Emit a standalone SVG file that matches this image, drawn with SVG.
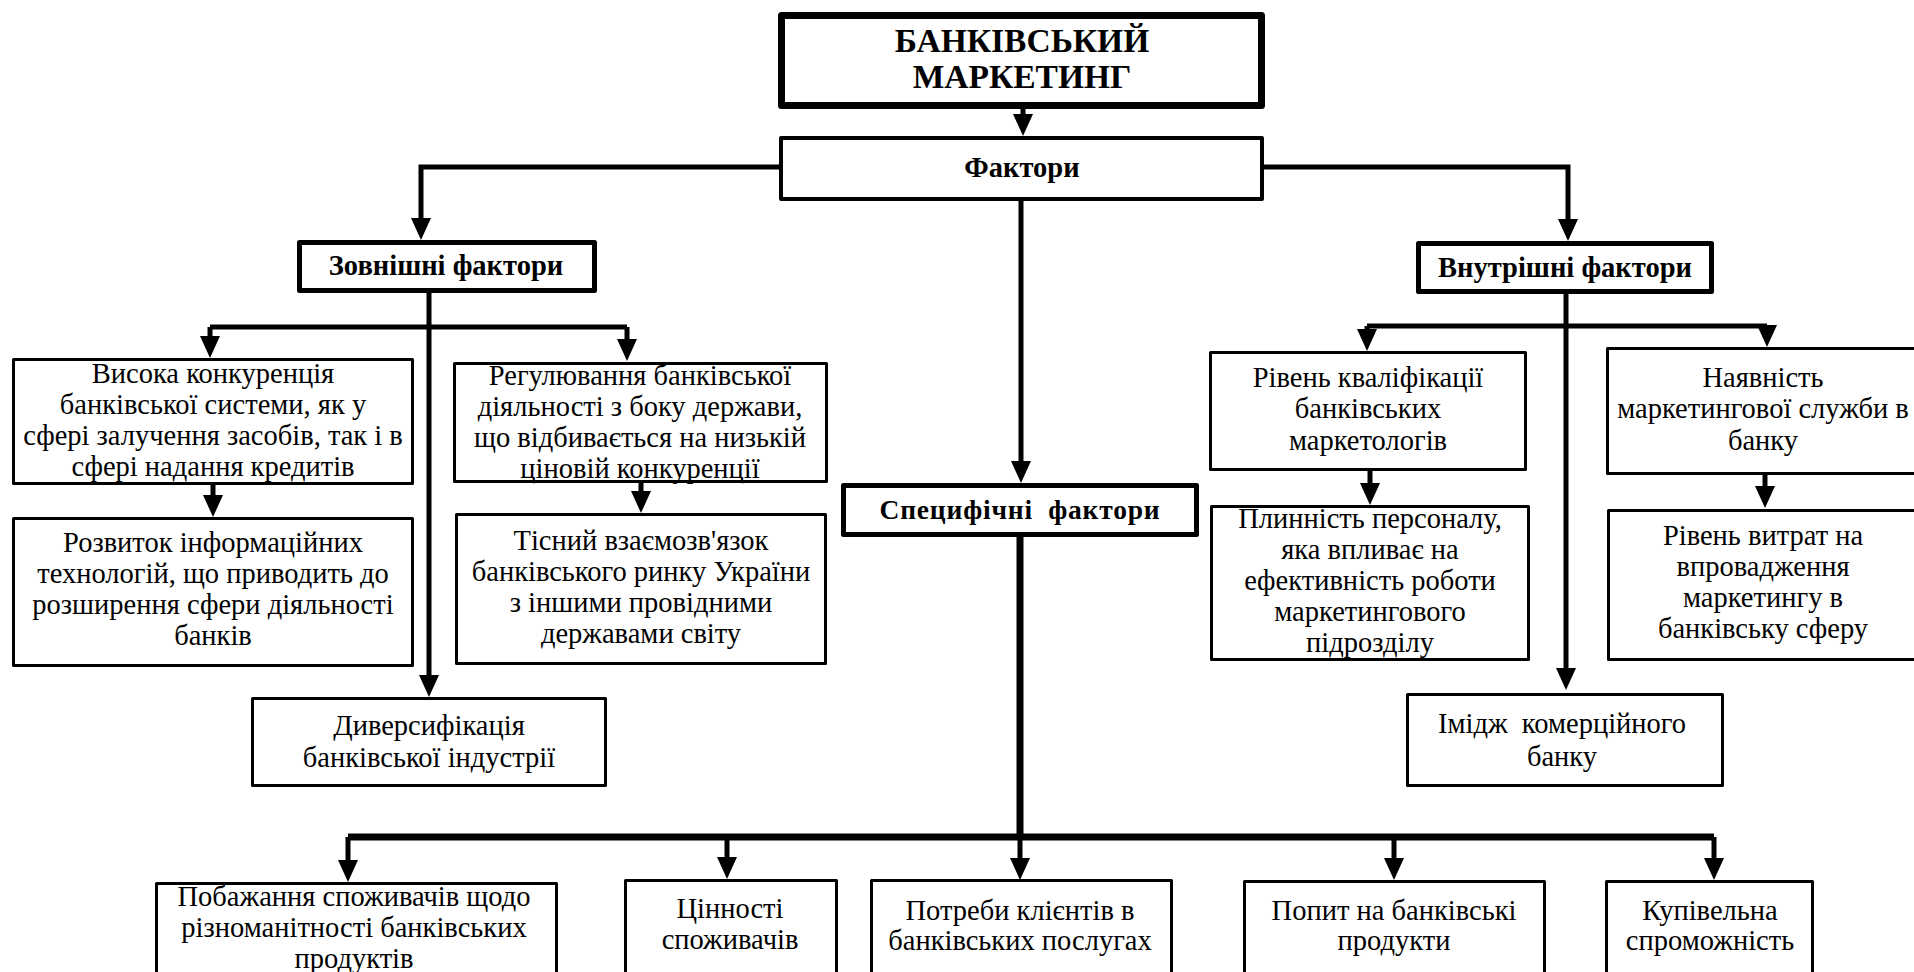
<svg xmlns="http://www.w3.org/2000/svg" width="1914" height="972" viewBox="0 0 1914 972">
<style>
  .box{fill:#fff;stroke:#000;stroke-width:3;stroke-linejoin:round}
  .b5{stroke-width:5}
  .b4{stroke-width:4}
  .b7{stroke-width:7}
  text{font-family:"Liberation Serif","Times New Roman",serif;fill:#000;text-anchor:middle}
  .t{font-size:28.5px}
  .h{font-size:28.5px;font-weight:bold}
  .title{font-size:33.5px;font-weight:bold}
  .c{fill:none;stroke:#000;stroke-width:5}
  .ca{fill:none;stroke:#000;stroke-width:5;marker-end:url(#ah)}
  .thick{fill:none;stroke:#000;stroke-width:7}
</style>
<defs>
  <marker id="ah" markerUnits="userSpaceOnUse" markerWidth="22" markerHeight="20" refX="10" refY="10" orient="auto" viewBox="0 0 22 20">
    <path d="M0,0 L22,10 L0,20 Z" fill="#000"/>
  </marker>
</defs>
<rect width="1914" height="972" fill="#fff"/>

<g id="connectors">
  <path class="ca" d="M1023,109 V124"/>
  <path class="ca" d="M781,167 H421 V228"/>
  <path class="ca" d="M1263,167 H1568 V229"/>
  <path class="ca" d="M1021,200 V471"/>
  <path class="ca" d="M429,293 V685"/>
  <path class="c" d="M210,327 H627"/>
  <path class="ca" d="M210,327 V346"/>
  <path class="ca" d="M627,327 V349"/>
  <path class="ca" d="M213,485 V505"/>
  <path class="ca" d="M641,483 V501"/>
  <path class="ca" d="M1566,293 V678"/>
  <path class="c" d="M1367,326 H1767"/>
  <path class="ca" d="M1367,326 V339"/>
  <path class="ca" d="M1767,326 V335"/>
  <path class="ca" d="M1370,471 V493"/>
  <path class="ca" d="M1765,474 V496"/>
  <path class="thick" d="M1020,537 V837"/>
  <path class="thick" d="M348,837 H1714"/>
  <path class="ca" d="M348,837 V870"/>
  <path class="ca" d="M727,837 V867"/>
  <path class="ca" d="M1020,837 V868"/>
  <path class="ca" d="M1394,837 V868"/>
  <path class="ca" d="M1714,837 V868"/>
</g>

<g id="n-banking-marketing">
  <rect class="box b7" x="781.5" y="15.5" width="480" height="90"/>
  <text class="title" x="1022" y="52">БАНКІВСЬКИЙ</text>
  <text class="title" x="1022" y="88">МАРКЕТИНГ</text>
</g>
<g id="n-factors">
  <rect class="box b4" x="781" y="138" width="481" height="61"/>
  <text class="h" x="1022" y="177">Фактори</text>
</g>
<g id="n-external">
  <rect class="box b5" x="299.5" y="242.5" width="295" height="48"/>
  <text class="h" x="446" y="275">Зовнішні фактори</text>
</g>
<g id="n-internal">
  <rect class="box b5" x="1418.5" y="243.5" width="293" height="48"/>
  <text class="h" x="1565" y="277">Внутрішні фактори</text>
</g>
<g id="n-specific">
  <rect class="box b5" x="843.5" y="485.5" width="353" height="49"/>
  <text class="h" x="1020" y="519" xml:space="preserve" style="font-size:27.5px" letter-spacing="0.8">Специфічні  фактори</text>
</g>

<g id="n-competition">
  <rect class="box" x="13.5" y="359.5" width="399" height="124"/>
  <text class="t" x="213" y="383">Висока конкуренція</text>
  <text class="t" x="213" y="414">банківської системи, як у</text>
  <text class="t" x="213" y="445">сфері залучення засобів, так і в</text>
  <text class="t" x="213" y="476">сфері надання кредитів</text>
</g>
<g id="n-regulation">
  <rect class="box" x="454.5" y="363.5" width="372" height="118"/>
  <text class="t" x="640" y="385">Регулювання банківської</text>
  <text class="t" x="640" y="416">діяльності з боку держави,</text>
  <text class="t" x="640" y="447">що відбивається на низькій</text>
  <text class="t" x="640" y="478">ціновій конкуренції</text>
</g>
<g id="n-it">
  <rect class="box" x="13.5" y="518.5" width="399" height="147"/>
  <text class="t" x="213" y="552">Розвиток інформаційних</text>
  <text class="t" x="213" y="583">технологій, що приводить до</text>
  <text class="t" x="213" y="614">розширення сфери діяльності</text>
  <text class="t" x="213" y="645">банків</text>
</g>
<g id="n-interrelation">
  <rect class="box" x="456.5" y="514.5" width="369" height="149"/>
  <text class="t" x="641" y="550">Тісний взаємозв'язок</text>
  <text class="t" x="641" y="581">банківського ринку України</text>
  <text class="t" x="641" y="612">з іншими провідними</text>
  <text class="t" x="641" y="643">державами світу</text>
</g>
<g id="n-diversification">
  <rect class="box" x="252.5" y="698.5" width="353" height="87"/>
  <text class="t" x="429" y="735">Диверсифікація</text>
  <text class="t" x="429" y="767">банківської індустрії</text>
</g>

<g id="n-qualification">
  <rect class="box" x="1210.5" y="352.5" width="315" height="117"/>
  <text class="t" x="1368" y="387">Рівень кваліфікації</text>
  <text class="t" x="1368" y="418">банківських</text>
  <text class="t" x="1368" y="450">маркетологів</text>
</g>
<g id="n-turnover">
  <rect class="box" x="1211.5" y="506.5" width="317" height="153"/>
  <text class="t" x="1370" y="528">Плинність персоналу,</text>
  <text class="t" x="1370" y="559">яка впливає на</text>
  <text class="t" x="1370" y="590">ефективність роботи</text>
  <text class="t" x="1370" y="621">маркетингового</text>
  <text class="t" x="1370" y="652">підрозділу</text>
</g>
<g id="n-service">
  <rect class="box" x="1607.5" y="348.5" width="320" height="125"/>
  <text class="t" x="1763" y="387">Наявність</text>
  <text class="t" x="1763" y="418">маркетингової служби в</text>
  <text class="t" x="1763" y="450">банку</text>
</g>
<g id="n-costs">
  <rect class="box" x="1608.5" y="510.5" width="320" height="149"/>
  <text class="t" x="1763" y="545">Рівень витрат на</text>
  <text class="t" x="1763" y="576">впровадження</text>
  <text class="t" x="1763" y="607">маркетингу в</text>
  <text class="t" x="1763" y="638">банківську сферу</text>
</g>
<g id="n-image">
  <rect class="box" x="1407.5" y="694.5" width="315" height="91"/>
  <text class="t" x="1562" y="733" xml:space="preserve">Імідж  комерційного</text>
  <text class="t" x="1562" y="766">банку</text>
</g>

<g id="n-wishes">
  <rect class="box" x="156.5" y="883.5" width="400" height="120"/>
  <text class="t" x="354" y="906">Побажання споживачів щодо</text>
  <text class="t" x="354" y="937">різноманітності банківських</text>
  <text class="t" x="354" y="968">продуктів</text>
</g>
<g id="n-values">
  <rect class="box" x="625.5" y="880.5" width="211" height="120"/>
  <text class="t" x="730" y="918">Цінності</text>
  <text class="t" x="730" y="949">споживачів</text>
</g>
<g id="n-needs">
  <rect class="box" x="871.5" y="880.5" width="300" height="120"/>
  <text class="t" x="1020" y="920">Потреби клієнтів в</text>
  <text class="t" x="1020" y="950">банківських послугах</text>
</g>
<g id="n-demand">
  <rect class="box" x="1244.5" y="881.5" width="300" height="120"/>
  <text class="t" x="1394" y="920">Попит на банківські</text>
  <text class="t" x="1394" y="950">продукти</text>
</g>
<g id="n-purchasing">
  <rect class="box" x="1606.5" y="881.5" width="206" height="120"/>
  <text class="t" x="1710" y="920">Купівельна</text>
  <text class="t" x="1710" y="950">спроможність</text>
</g>
</svg>
